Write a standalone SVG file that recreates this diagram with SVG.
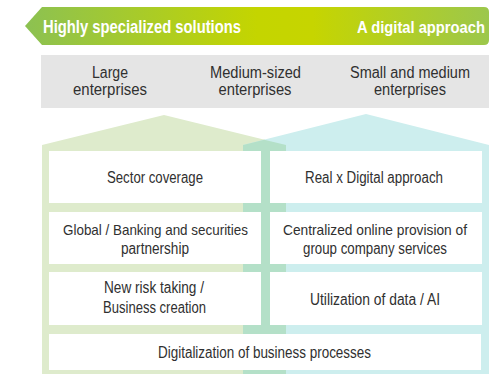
<svg xmlns="http://www.w3.org/2000/svg" width="493" height="374" viewBox="0 0 493 374">
  <defs>
    <linearGradient id="bannerGrad" x1="25" y1="0" x2="489" y2="0" gradientUnits="userSpaceOnUse">
      <stop offset="0" stop-color="#8cc152"/>
      <stop offset="0.5" stop-color="#c4d500"/>
      <stop offset="0.62" stop-color="#c6d500"/>
      <stop offset="1" stop-color="#9cc74c"/>
    </linearGradient>
    <style>
      .t { font-family: "Liberation Sans Narrow", "Liberation Sans", Arial, sans-serif; font-size: 16px; fill: #303030; text-anchor: middle; }
      .s { font-size: 15px; }
      .b { font-family: "Liberation Sans Narrow", "Liberation Sans", Arial, sans-serif; font-size: 18px; font-weight: bold; fill: #ffffff; }
      .box { fill: #ffffff; }
    </style>
  </defs>

  <g id="banner">
    <path d="M42,7 L484,7 Q489,7 489,12 L489,40 Q489,45 484,45 L42,45 L25,26 Z" fill="url(#bannerGrad)"/>
    <text class="b" x="43" y="33" textLength="198" lengthAdjust="spacingAndGlyphs">Highly specialized solutions</text>
    <text class="b" x="485" y="33" text-anchor="end" style="font-size:17px" textLength="128" lengthAdjust="spacingAndGlyphs">A digital approach</text>
  </g>

  <g id="header">
    <rect x="41" y="55" width="448" height="53" fill="#e5e5e5"/>
    <text class="t" x="110" y="78" textLength="36" lengthAdjust="spacingAndGlyphs">Large</text>
    <text class="t" x="110" y="95" textLength="74" lengthAdjust="spacingAndGlyphs">enterprises</text>
    <text class="t" x="255.5" y="78" textLength="91" lengthAdjust="spacingAndGlyphs">Medium-sized</text>
    <text class="t" x="255" y="95" textLength="73" lengthAdjust="spacingAndGlyphs">enterprises</text>
    <text class="t" x="410" y="78" textLength="120" lengthAdjust="spacingAndGlyphs">Small and medium</text>
    <text class="t" x="410" y="95" textLength="72" lengthAdjust="spacingAndGlyphs">enterprises</text>
  </g>

  <g id="houses">
    <polygon id="house-left" points="42,145 164,115 286,145 286,374 42,374" fill="#deebcc"/>
    <polygon id="house-right" points="243,145 366,114 489,145 489,374 243,374" fill="#cdeeee"/>
    <polygon id="house-overlap" points="243,145 264.2,139.8 286,145 286,374 243,374" fill="#b4e0c8"/>
  </g>

  <g id="sector-coverage">
    <rect class="box" x="49" y="151" width="212" height="52"/>
    <text class="t" x="155" y="183" textLength="96" lengthAdjust="spacingAndGlyphs">Sector coverage</text>
  </g>
  <g id="global-banking">
    <rect class="box" x="49" y="212" width="212" height="52"/>
    <text class="t s" x="155.5" y="235" textLength="185" lengthAdjust="spacingAndGlyphs">Global / Banking and securities</text>
    <text class="t" x="155" y="254" textLength="68" lengthAdjust="spacingAndGlyphs">partnership</text>
  </g>
  <g id="new-risk">
    <rect class="box" x="49" y="272" width="212" height="53"/>
    <text class="t" x="154" y="293" textLength="100" lengthAdjust="spacingAndGlyphs">New risk taking /</text>
    <text class="t" x="154.5" y="313" textLength="103" lengthAdjust="spacingAndGlyphs">Business creation</text>
  </g>
  <g id="real-digital">
    <rect class="box" x="270" y="151" width="212" height="52"/>
    <text class="t" x="374" y="183" textLength="138" lengthAdjust="spacingAndGlyphs">Real x Digital approach</text>
  </g>
  <g id="centralized">
    <rect class="box" x="270" y="212" width="212" height="52"/>
    <text class="t s" x="375" y="235" textLength="184" lengthAdjust="spacingAndGlyphs">Centralized online provision of</text>
    <text class="t" x="375" y="254" textLength="144" lengthAdjust="spacingAndGlyphs">group company services</text>
  </g>
  <g id="data-ai">
    <rect class="box" x="270" y="272" width="212" height="53"/>
    <text class="t" x="375" y="305" textLength="130" lengthAdjust="spacingAndGlyphs">Utilization of data / AI</text>
  </g>
  <g id="digitalization">
    <rect class="box" x="49" y="334" width="432" height="36"/>
    <text class="t" x="264.5" y="358" textLength="213" lengthAdjust="spacingAndGlyphs">Digitalization of business processes</text>
  </g>

  <g id="connectors"/>
</svg>
